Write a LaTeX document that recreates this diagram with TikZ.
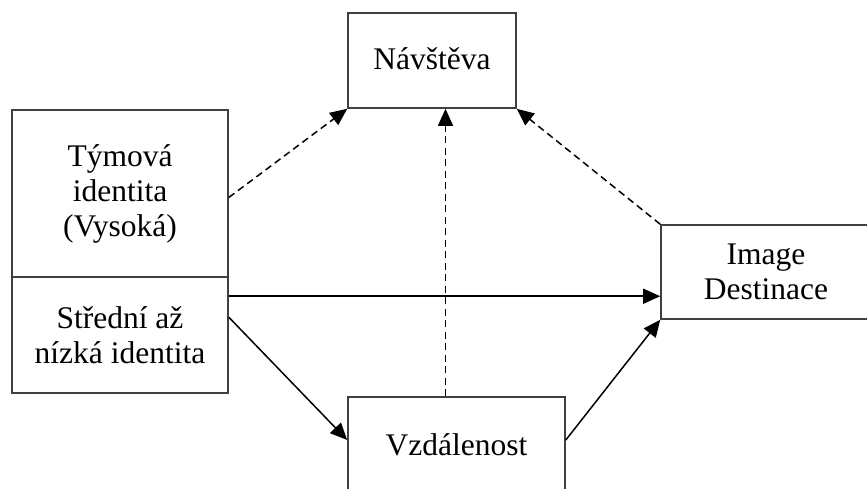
\documentclass[tikz,border=0pt]{standalone}
\usepackage{fontspec}
\setmainfont{Liberation Serif}
\usetikzlibrary{arrows.meta}
\begin{document}
\begin{tikzpicture}[x=1pt,y=-1pt,
  box/.style={draw=black!75,line width=1.6pt,fill=white,inner sep=0pt,align=center,
    font=\fontsize{31.5}{35}\selectfont},
  conn/.style={line width=1.5pt,-{Triangle[length=17pt,width=15pt]}},
  dconn/.style={conn,dash pattern=on 7pt off 4.5pt}]
\useasboundingbox (0,0) rectangle (867,488);
\node[box,minimum width=216pt,minimum height=167pt] (lt) at (120,193.5) {Týmová\\identita\\(Vysoká)};
\node[box,minimum width=216pt,minimum height=116pt] (lb) at (120,335) {Střední až\\nízká identita};
\node[box,minimum width=168pt,minimum height=95pt] (nav) at (432,60.5) {\raisebox{4pt}{Návštěva}};
\node[box,minimum width=210pt,minimum height=94pt] (img) at (766,272) {Image\\Destinace};
\node[box,minimum width=217pt,minimum height=96pt] (vz) at (456.5,445) {Vzdálenost};
\draw[dconn] ([yshift=-4pt]lt.east) -- (nav.south west);
\draw[dconn] ([xshift=-11pt]vz.north) -- ([xshift=-11pt]vz.north |- nav.south);
\draw[dconn] (img.north west) -- (nav.south east);
\draw[conn] ([yshift=-20pt]lb.north east) -- ([yshift=-20pt]lb.north east -| img.west);
\draw[conn] ([yshift=-41pt]lb.north east) -- ([yshift=5pt]vz.west);
\draw[conn] ([yshift=5pt]vz.east) -- (img.south west);
\end{tikzpicture}
\end{document}
